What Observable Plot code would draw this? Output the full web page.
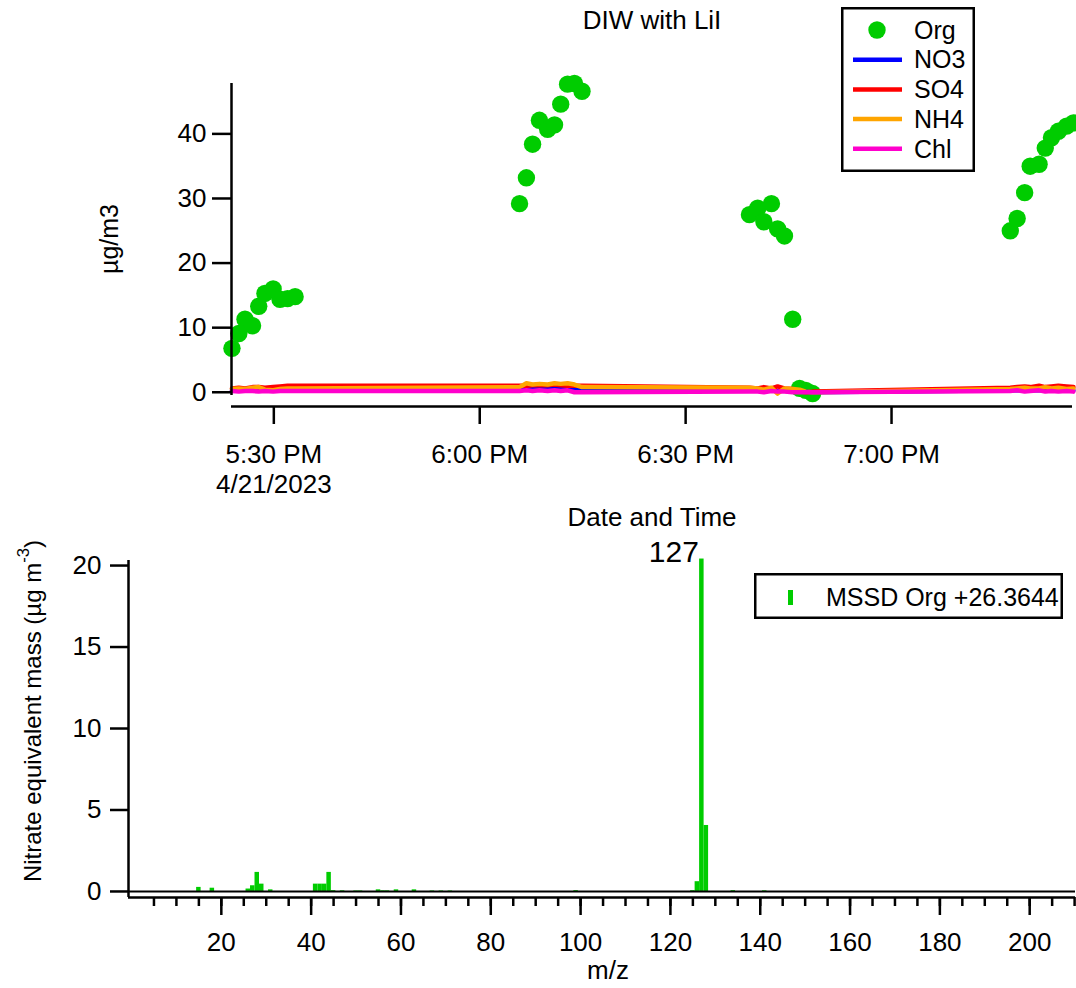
<!DOCTYPE html>
<html><head><meta charset="utf-8">
<script src="https://cdn.jsdelivr.net/npm/d3@7"></script>
<script src="https://cdn.jsdelivr.net/npm/@observablehq/plot@0.6"></script>
<style>
body{margin:0;background:#fff;}
#wrap{position:relative;width:1076px;height:988px;overflow:hidden;font-family:"Liberation Sans",Arial,sans-serif;background:#fff;}
#wrap > svg{position:absolute;left:0;}
</style></head><body><div id="wrap"></div>
<script>
// ---------- data: top chart (time series, 4/21/2023) ----------
const chartTitle = "DIW with LiI";
const timeStrings = [
  "17:23:54","17:24:54","17:25:48","17:26:54","17:27:48","17:28:42","17:29:54","17:30:54","17:32:00","17:33:06",
  "18:05:48","18:06:48","18:07:42","18:08:42","18:09:54","18:10:54","18:11:48","18:12:48","18:13:48","18:14:54",
  "18:39:18","18:40:30","18:41:24","18:42:30","18:43:24","18:44:24","18:45:36","18:46:36","18:47:30","18:48:30",
  "19:17:18","19:18:18","19:19:24","19:20:12","19:21:30","19:22:24","19:23:18","19:24:18","19:25:30","19:26:30"
];
const orgValues = [
  6.8, 9.1, 11.3, 10.3, 13.3, 15.3, 16.0, 14.4, 14.5, 14.8,
  29.2, 33.2, 38.4, 42.1, 40.7, 41.4, 44.6, 47.7, 47.8, 46.6,
  27.5, 28.5, 26.4, 29.2, 25.3, 24.2, 11.3, 0.6, 0.3, -0.2,
  25.0, 26.9, 30.9, 35.0, 35.3, 37.8, 39.4, 40.4, 41.2, 41.7
];
const no3Values = [
  0.3,0.3,0.3,0.3,0.3,0.3,0.3,0.3,0.3,0.3,
  0.4,0.6,0.7,0.8,0.7,0.8,0.7,0.6,0.4,0.3,
  0.3,0.3,0.3,0.3,0.2,0.3,0.2,0.1,0.1,0.0,
  0.3,0.3,0.3,0.3,0.3,0.3,0.3,0.3,0.3,0.3
];
const so4Values = [
  0.6,0.7,0.6,0.8,0.8,0.7,0.8,0.9,1.0,1.0,
  1.0,1.0,1.1,1.1,1.1,1.2,1.1,1.0,1.0,1.0,
  0.7,0.6,0.8,0.6,0.9,0.6,0.5,0.2,0.0,0.1,
  0.7,0.8,0.9,0.8,1.0,0.8,0.9,1.0,0.9,0.8
];
const nh4Values = [
  0.5,0.6,0.5,0.7,0.8,0.4,0.3,0.5,0.6,0.6,
  0.8,1.4,1.2,1.3,1.2,1.4,1.3,1.4,1.2,0.8,
  0.7,0.6,0.4,0.7,-0.2,0.6,0.5,0.4,0.1,0.0,
  0.5,0.6,0.7,0.6,0.6,0.8,0.6,0.7,0.5,0.6
];
const chlValues = [
  0.2,0.1,0.2,0.2,0.1,0.2,0.1,0.2,0.2,0.2,
  0.2,0.3,0.2,0.3,0.2,0.3,0.2,0.3,0.0,0.0,
  0.1,0.1,0.0,0.2,0.1,0.1,0.0,0.0,0.0,0.0,
  0.2,0.3,0.1,0.2,0.3,0.1,0.2,0.1,0.2,0.1
];
const orgName = "Org", orgColor = "#00cc00";
const seriesNames = ["NO3", "SO4", "NH4", "Chl"];
const seriesColors = ["#0000ff", "#ff0000", "#ffa500", "#ff00cc"];
const seriesValues = [no3Values, so4Values, nh4Values, chlValues];
const xTickTimes = ["17:30:00", "18:00:00", "18:30:00", "19:00:00"];
const xTickLabels = ["5:30 PM\n4/21/2023", "6:00 PM", "6:30 PM", "7:00 PM"];
const topYTicks = [0, 10, 20, 30, 40];
const topXDomain = ["17:23:50", "19:26:22"];
const topYDomain = [-0.5, 47.8];
const topYLabel = "µg/m3";
const topXLabel = "Date and Time";

// ---------- data: bottom chart (mass spectrum) ----------
const mzValues = [15,18,26,27,28,29,31,41,42,43,44,45,47,50,51,55,56,57,59,63,67,69,71,99,125,126,127,128,134,141];
const massValues = [0.25,0.2,0.15,0.35,1.17,0.45,0.1,0.45,0.45,0.45,1.17,0.05,0.04,0.03,0.03,0.1,0.04,0.04,0.1,0.1,0.03,0.03,0.03,0.05,0.05,0.6,20.4,4.05,0.05,0.04];
const specLegend = "MSSD Org +26.3644";
const specPeakLabel = 127;
const specXMajor = [20,40,60,80,100,120,140,160,180,200];
const specXMinor = d3.range(5, 211, 5);
const specYTicks = [0, 5, 10, 15, 20];
const specXDomain = [-0.67, 210.2];
const specYDomain = [-0.37, 20.31];
const specXLabel = "m/z";
const specYLabel = "Nitrate equivalent mass (µg m";

// ---------- build ----------
const FONT = '"Liberation Sans", Arial, sans-serif';
const TICKFS = 26, LABELFS = 26;
const t = s => { const [h, m, sec] = s.split(":").map(Number); return new Date(2023, 3, 21, h, m, sec); };
const orgData = timeStrings.map((s, i) => ({time: t(s), value: orgValues[i]}));
const seriesData = seriesNames.map((n, k) => timeStrings.map((s, i) => ({time: t(s), value: seriesValues[k][i], series: n})));
const tickDates = xTickTimes.map(t);
const tickLabelMap = new Map(tickDates.map((d, i) => [+d, xTickLabels[i]]));
const xDom = topXDomain.map(t);
const wrap = document.getElementById("wrap");

const topPlot = Plot.plot({
  width: 1076, height: 530,
  marginLeft: 231, marginRight: 4, marginTop: 83, marginBottom: 124,
  style: {fontSize: TICKFS + "px", fontFamily: FONT, background: "transparent", overflow: "visible", color: "#000"},
  x: {type: "time", domain: xDom},
  y: {domain: topYDomain, insetBottom: 11},
  marks: [
    Plot.dot(orgData, {x: "time", y: "value", r: 8.7, fill: orgColor, stroke: "none"}),
    ...seriesData.map((d, k) => Plot.line(d, {x: "time", y: "value", stroke: seriesColors[k], strokeWidth: 4.5, strokeLinejoin: "round"})),
    Plot.ruleX([xDom[0]], {y1: topYDomain[0], y2: topYDomain[1], strokeWidth: 2.5, stroke: "#000"}),
    Plot.ruleY([topYDomain[0]], {dy: 11, strokeWidth: 2.5, stroke: "#000"}),
    Plot.axisY({ticks: topYTicks, tickSize: 19, tickPadding: 6, strokeWidth: 2.5, label: null, fontSize: TICKFS}),
    Plot.axisX({ticks: tickDates, tickFormat: d => tickLabelMap.get(+d), tickSize: 18, tickPadding: 17, strokeWidth: 2.5, label: null, fontSize: TICKFS, lineHeight: 1.15}),
    Plot.text([chartTitle], {frameAnchor: "top", lineAnchor: "middle", dy: -63, fontSize: LABELFS}),
    Plot.text([topXLabel], {frameAnchor: "bottom", lineAnchor: "middle", dy: 111, fontSize: LABELFS}),
    Plot.text([topYLabel], {frameAnchor: "left", textAnchor: "middle", lineAnchor: "middle", dx: -122, dy: -6, rotate: -90, fontSize: 25})
  ]
});
topPlot.style.top = "0px";
wrap.appendChild(topPlot);

const specData = mzValues.map((m, i) => ({mz: m, value: massValues[i]}));
const botPlot = Plot.plot({
  width: 1076, height: 458,
  marginLeft: 128, marginRight: 1, marginTop: 30, marginBottom: 91,
  style: {fontSize: TICKFS + "px", fontFamily: FONT, background: "transparent", overflow: "visible", color: "#000"},
  x: {domain: specXDomain},
  y: {domain: specYDomain},
  marks: [
    Plot.rectY(specData, {x1: d => d.mz - 0.5, x2: d => d.mz + 0.5, y1: 0, y2: "value", fill: orgColor}),
    Plot.ruleY([0], {strokeWidth: 2, stroke: "#000"}),
    Plot.ruleX([specXDomain[0]], {strokeWidth: 2.5, stroke: "#000"}),
    Plot.ruleY([specYDomain[0]], {strokeWidth: 2.5, stroke: "#000"}),
    Plot.axisY({ticks: specYTicks, tickSize: 18, tickPadding: 9, strokeWidth: 2.5, label: null, fontSize: TICKFS}),
    Plot.axisX({ticks: specXMinor, tickSize: 9, tickFormat: () => "", strokeWidth: 2.5, label: null}),
    Plot.axisX({ticks: specXMajor, tickSize: 18, tickPadding: 17, strokeWidth: 2.5, label: null, fontSize: TICKFS}),
    Plot.text(specData.filter(d => d.mz === specPeakLabel), {x: "mz", y: "value", text: d => String(d.mz), textAnchor: "end", dx: -3, dy: -7, fontSize: 30}),
    Plot.text([specXLabel], {frameAnchor: "bottom", lineAnchor: "middle", dx: 6, dy: 73, fontSize: LABELFS}),
    Plot.text([specYLabel], {frameAnchor: "left", textAnchor: "middle", lineAnchor: "middle", dx: -95, dy: -18, rotate: -90, fontSize: 24})
  ]
});
botPlot.style.top = "530px";
wrap.appendChild(botPlot);

// superscript on the y label of the spectrum
d3.select(botPlot).selectAll("text").filter(function() { return this.textContent === specYLabel; }).each(function() {
  const el = d3.select(this);
  el.text(null);
  el.append("tspan").text(specYLabel);
  el.append("tspan").attr("dy", "-0.7em").attr("font-size", "0.7em").text("-3");
  el.append("tspan").attr("dy", "0.5em").text(")");
});

// ---------- legends ----------
function mkSvg(x, y, w, h) {
  const s = d3.create("svg").attr("width", w).attr("height", h)
    .style("position", "absolute").style("left", x + "px").style("top", y + "px")
    .style("font-family", FONT).style("font-size", "25px").style("overflow", "visible");
  s.append("rect").attr("x", 1.25).attr("y", 1.25).attr("width", w - 2.5).attr("height", h - 2.5)
    .attr("fill", "#fff").attr("stroke", "#000").attr("stroke-width", 2.5);
  return s;
}
const leg = mkSvg(841, 7, 134, 165);
const rows = [{name: orgName, color: orgColor, dot: true}].concat(seriesNames.map((n, k) => ({name: n, color: seriesColors[k], dot: false})));
rows.forEach((r, i) => {
  const cy = 23 + i * 29.7;
  if (r.dot) leg.append("circle").attr("cx", 36).attr("cy", cy).attr("r", 8.7).attr("fill", r.color);
  else leg.append("line").attr("x1", 12).attr("x2", 61).attr("y1", cy).attr("y2", cy).attr("stroke", r.color).attr("stroke-width", 4.5);
  leg.append("text").attr("x", 73).attr("y", cy).attr("dy", "0.35em").text(r.name);
});
wrap.appendChild(leg.node());

const leg2 = mkSvg(754, 573, 309, 46);
leg2.append("rect").attr("x", 34).attr("y", 17).attr("width", 5).attr("height", 15).attr("fill", orgColor);
leg2.append("text").attr("x", 72).attr("y", 24).attr("dy", "0.35em").text(specLegend);
wrap.appendChild(leg2.node());
</script></body></html>
